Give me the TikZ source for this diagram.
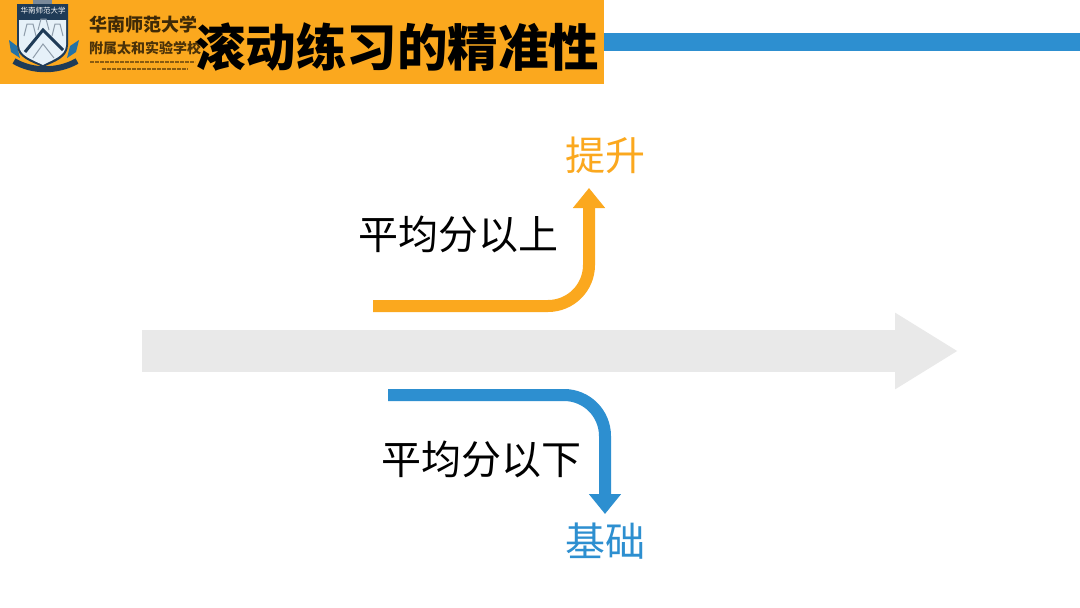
\documentclass[tikz,border=0pt]{standalone}
\usepackage{fontspec}
\usepackage{xcolor}
\usetikzlibrary{arrows.meta}
\newfontfamily\cjk{Noto Sans CJK SC}
\definecolor{bannerorange}{HTML}{FBA81E}
\definecolor{barblue}{HTML}{2D8FD0}
\definecolor{shaftgrey}{HTML}{E9E9E9}
\definecolor{shieldnavy}{HTML}{1F3B57}
\tikzset{
  lbl/.style={font=\cjk\fontsize{40}{40}\selectfont,inner sep=0pt},
  turn/.style={line width=12pt,rounded corners=41pt}
}
\begin{document}
\begin{tikzpicture}[x=1pt,y=-1pt]
\useasboundingbox[fill=white] (0,0) rectangle (1080,608);
% header
\fill[bannerorange] (0,0) rectangle (604,84);
\fill[barblue] (604,33) rectangle (1080,51);
% school badge
\fill[shieldnavy!60] (33,0) rectangle (52,5);
\fill[barblue!80!black] (9,40) -- (17,46) -- (20,58) -- (11,52) -- cycle;
\fill[barblue!80!black] (79,40) -- (70,46) -- (67,58) -- (76,52) -- cycle;
\fill[shieldnavy] (17,4) -- (68,4) -- (68,45) .. controls (68,58) and (54,62) .. (43,67) .. controls (32,62) and (17,58) .. (17,45) -- cycle;
\fill[white!88!barblue] (19,20) -- (66,20) -- (66,45) .. controls (66,56) and (52,60) .. (43,65) .. controls (33,60) and (19,56) .. (19,45) -- cycle;
\draw[shieldnavy!50,line width=1pt] (24,36) -- (27,24) -- (33,24) -- (36,36) (38,30) -- (41,19) -- (46,19) -- (49,30) (52,36) -- (55,24) -- (60,24) -- (63,36);
\draw[shieldnavy!50,line width=1pt] (33,58) -- (43,44) -- (54,58);
\draw[shieldnavy,line width=3pt] (25,52) -- (43,30) -- (63,50);
\draw[shieldnavy,line width=6pt] (14,61) .. controls (32,72) and (58,72) .. (77,61);
\node[font=\cjk\fontsize{7.5}{8}\selectfont,text=white,inner sep=0pt] (badgetitle) at (43,11) {华南师范大学};
% school name
\node[font=\cjk\bfseries\fontsize{18}{18}\selectfont,text=black!75!bannerorange,inner sep=0pt] (schoolcn) at (143,25) {华南师范大学};
\node[font=\cjk\bfseries\fontsize{14}{14}\selectfont,text=black!70!bannerorange,inner sep=0pt] (schoolsub) at (145,48) {附属太和实验学校};
\draw[black!45!bannerorange,line width=1.5pt,dash pattern=on 4pt off 1pt] (90,62) -- (195,62) (102,69) -- (188,69);
% title
\node[font=\cjk\bfseries\fontsize{50.5}{50}\selectfont,inner sep=0pt] (title) at (397,47) {滚动练习的精准性};
% long arrow
\coordinate (a) at (142,351);
\coordinate (b) at (958,351);
\draw[shaftgrey,line width=42pt,-{Triangle[length=63pt,width=72pt]}] (a) -- (b);
% upper arrow
\coordinate (c) at (373,306);
\coordinate (d) at (589,306);
\coordinate (e) at (589,188);
\draw[bannerorange,turn,-{Triangle[length=20pt,width=31pt]}] (c) -- (d) -- (e);
% lower arrow
\coordinate (f) at (388,395);
\coordinate (g) at (605,395);
\coordinate (h) at (605,514);
\draw[barblue,turn,-{Triangle[length=20pt,width=31pt]}] (f) -- (g) -- (h);
% labels
\node[lbl] (above) at (458,234) {平均分以上};
\node[lbl] (below) at (481,459) {平均分以下};
\node[lbl,text=bannerorange] (rise) at (605,155) {提升};
\node[lbl,text=barblue] (base) at (605,541) {基础};
\end{tikzpicture}
\end{document}
